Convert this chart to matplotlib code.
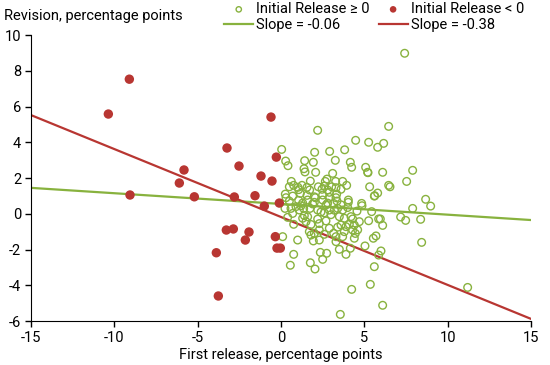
import matplotlib
matplotlib.use("Agg")
import matplotlib.pyplot as plt
import numpy as np

plt.rcParams['font.family'] = ['Roboto', 'DejaVu Sans']
plt.rcParams['axes.unicode_minus'] = False

# Initial release < 0 (first release, revision)
neg_x = [-9.1, -10.36, -0.6, -3.24, -0.28, -2.52, -5.82, -1.2, -0.54, -6.1,
         -9.06, -5.2, -2.8, -1.56, -1.0, -0.1, -3.28, -2.86, -1.92, -2.14,
         -0.34, -0.24, -0.04, -3.88, -3.76]
neg_y = [7.53, 5.58, 5.41, 3.68, 3.17, 2.67, 2.45, 2.11, 1.83, 1.72,
         1.05, 0.95, 0.94, 1.01, 0.43, 0.6, -0.91, -0.85, -1.02, -1.47,
         -1.28, -1.92, -1.92, -2.18, -4.6]

# Initial release >= 0
pos_x = [2.2, 0.04, 2.02, 2.92, 0.28, 0.42, 1.42, 1.94, 1.38, 1.44,
         2.08, 3.26, 3.1, 0.62, 1.76, 2.76, 2.66, 3.28, 0.5, 0.76,
         1.02, 1.26, 1.06, 1.56, 1.72, 2.24, 2.46, 2.6, 2.8, 3.04,
         3.3, 0.26, 0.7, 1.16, 1.56, 2.0, 2.5, 2.9, 3.34,
         6.46, 4.48, 5.26, 5.8, 6.16, 3.82, 4.16, 4.24, 5.08, 5.2, 5.22,
         6.1, 7.9, 7.54, 6.46, 6.54, 5.32, 5.8, 5.62, 3.7, 3.94, 3.6,
         8.68, 4.04, 7.42, 8.98, 7.9, 7.18, 7.48, 8.38, 5.96, 6.1, 8.44,
         6.0, 11.2, 6.1,
         0.3, 0.5, 0.24, 0.6, 0.7, 1.06, 1.1, 1.36, 1.6, 1.74, 2.0, 2.2,
         2.06, 2.5, 2.7, 2.9, 3.16, 3.3, 3.4, 1.3, 1.5, 1.6, 0.76,
         1.7, 1.8, 2.0, 2.3, 2.6, 2.9, 3.16, 3.3, 2.3, 1.94, 0.1, 1.0,
         0.76, 2.36, 2.74, 2.5, 1.76, 0.56, 2.04, 3.3,
         3.36, 4.04, 4.84, 4.86, 5.6, 3.7, 4.56, 5.44,
         3.5, 3.8, 4.2, 4.3, 4.1, 4.4, 4.7, 5.26, 5.86, 3.6, 3.9, 3.8,
         4.3, 4.46, 4.4, 3.7, 3.5, 3.9, 4.16, 5.04, 5.54, 5.7, 5.86, 5.6,
         5.36, 4.24, 3.56,
         1.2, 1.9, 2.4, 2.8, 3.0, 3.6, 4.0, 1.4, 2.2, 2.6, 3.2, 0.9,
         1.8, 2.3, 2.7, 3.4, 4.6, 0.4, 1.3, 2.9]
pos_y = [4.67, 3.6, 3.44, 3.49, 2.95, 2.69, 2.97, 2.88, 2.52, 2.34,
         2.32, 2.99, 2.26, 1.81, 1.83, 1.94, 1.81, 1.81, 1.51, 1.59,
         1.48, 1.59, 1.35, 1.48, 1.33, 1.51, 1.37, 1.55, 1.33, 1.51,
         1.46, 1.1, 0.99, 1.14, 1.03, 0.95, 1.05, 0.92, 1.1,
         4.89, 4.11, 4.0, 3.72, 3.94, 3.58, 2.88, 2.6, 2.6, 2.32, 2.3,
         2.32, 2.43, 1.81, 1.59, 1.51, 1.51, 1.16, 1.01, 1.81, 1.59, 1.37,
         0.81, 0.77, 8.98, 0.43, 0.3, -0.18, -0.37, -0.31, -0.29, -0.65, -1.6,
         -2.08, -4.12, -5.12,
         0.9, 0.71, 0.3, 0.3, 0.02, 0.75, 0.21, 0.3, 0.77, 0.3, 0.64, 0.21,
         0.9, 0.77, 0.49, 0.21, 0.58, 0.9, 0.3, -0.25, -0.44, -0.17, -0.59,
         -1.0, -1.19, -1.09, -0.91, -1.15, -0.81, -1.09, -1.28, -1.47, -1.52, -1.28, -1.47,
         -2.27, -2.16, -2.21, -2.55, -2.74, -2.88, -3.09, -1.56,
         0.71, 0.64, 0.58, 0.45, 0.99, 0.21, 0.15, 0.12,
         -0.16, -0.25, -0.16, -0.29, -0.59, -0.63, -0.44, -0.39, -0.29, -0.63, -0.72, -1.0,
         -0.91, -1.1, -1.37, -1.28, -1.99, -2.27, -1.93, -1.8, -1.37, -1.24, -2.31, -2.96,
         -3.95, -4.23, -5.63,
         0.45, 0.55, 0.1, 0.6, -0.05, 0.5, 0.35, -0.1, -0.3, 0.05, 0.2, 0.4,
         -0.6, -0.55, -0.4, -0.75, -0.9, -0.2, 0.6, 1.2]

slope_pos, icpt_pos = -0.06, 0.55
slope_neg, icpt_neg = -0.38, -0.18

green = '#88B23E'
red = '#B83632'

fig = plt.figure(figsize=(5.5, 3.65), dpi=100)
ax = fig.add_axes([0.0564, 0.1205, 0.909, 0.7835])

ax.scatter(pos_x, pos_y, s=30, facecolors='none', edgecolors=green, linewidths=1.0,
           label='Initial Release \u2265 0', zorder=3)
ax.scatter(neg_x, neg_y, s=46, color=red, edgecolors='none',
           label='Initial Release < 0', zorder=3)

xs = np.array([-15, 15])
ax.plot(xs, slope_pos * xs + icpt_pos, color=green, lw=1.6, label='Slope = -0.06', zorder=2)
ax.plot(xs, slope_neg * xs + icpt_neg, color=red, lw=1.6, label='Slope = -0.38', zorder=2)

ax.set_xlim(-15, 15)
ax.set_ylim(-6, 10)
ax.set_xticks(range(-15, 16, 5))
ax.set_yticks(range(-6, 11, 2))
ax.spines['top'].set_visible(False)
ax.spines['right'].set_visible(False)
ax.tick_params(labelsize=10.5, length=4, width=1, direction='out', pad=3)
ax.set_xlabel('First release, percentage points', fontsize=10.5, labelpad=2)
fig.text(0.008, 0.975, 'Revision, percentage points', fontsize=10.5, ha='left', va='top')

h, l = ax.get_legend_handles_labels()
order = [0, 2, 1, 3]
fig.legend([h[i] for i in order], [l[i] for i in order], ncol=2, frameon=False,
           loc='upper left', bbox_to_anchor=(0.397, 1.01), fontsize=10.5,
           handlelength=2.0, handletextpad=0.2, columnspacing=0.6, labelspacing=0.1,
           markerscale=0.7, borderaxespad=0)

fig.savefig('out.png', dpi=100)
